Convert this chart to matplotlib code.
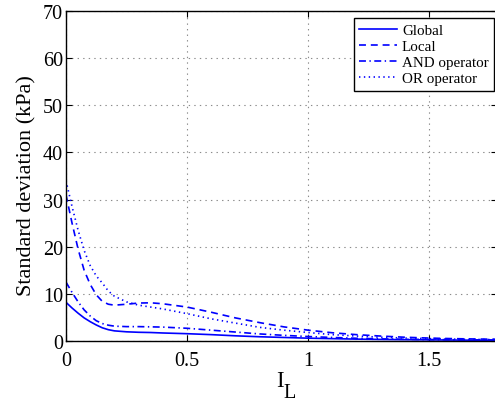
import numpy as np
import matplotlib
matplotlib.use("Agg")
import matplotlib.pyplot as plt

plt.rcParams['font.family'] = ['Liberation Serif', 'DejaVu Serif']
plt.rcParams['lines.scale_dashes'] = False

# I_L values and standard deviations (kPa)
il = [0, 0.025, 0.05, 0.075, 0.1, 0.125, 0.15, 0.175, 0.2, 0.25, 0.3, 0.35, 0.4,
      0.5, 0.6, 0.7, 0.8, 0.9, 1.0, 1.1, 1.2, 1.3, 1.4, 1.5, 1.6, 1.7, 1.8]
sd_global = [8.2, 7.0, 5.9, 4.9, 4.1, 3.4, 2.8, 2.4, 2.15, 1.95, 1.85, 1.8, 1.7,
             1.55, 1.35, 1.1, 0.9, 0.75, 0.6, 0.5, 0.4, 0.33, 0.28, 0.24, 0.2, 0.17, 0.15]
sd_local = [31, 25, 19.5, 15, 12, 9.8, 8.4, 7.8, 7.6, 7.8, 8.05, 8.1, 7.9,
            7.2, 6.1, 4.9, 3.9, 3.0, 2.3, 1.75, 1.35, 1.05, 0.8, 0.62, 0.5, 0.42, 0.36]
sd_and = [12.5, 10.3, 8.3, 6.6, 5.3, 4.3, 3.7, 3.35, 3.15, 3.05, 3.05, 3.0, 2.95,
          2.7, 2.3, 1.9, 1.5, 1.2, 0.95, 0.75, 0.58, 0.45, 0.37, 0.31, 0.27, 0.24, 0.22]
sd_or = [34, 28.5, 23.5, 19.2, 16, 13.8, 12.3, 10.6, 9.5, 8.3, 7.6, 7.2, 6.8,
         5.8, 4.7, 3.8, 2.9, 2.3, 1.8, 1.35, 1.05, 0.8, 0.62, 0.5, 0.4, 0.33, 0.28]

fig = plt.figure(figsize=(4.95, 4.02), dpi=100)
ax = fig.add_axes([66/495, 60/402, 431/495, 330/402])

blue = (0, 0, 1)
lw = 1.2
ax.plot(il, sd_global, color=blue, lw=lw, label='Global')
ax.plot(il, sd_local, color=blue, lw=lw, dashes=(5, 3.5), label='Local')
ax.plot(il, sd_and, color=blue, lw=lw, dashes=(5, 2.5, 1, 2.5), label='AND operator')
ax.plot(il, sd_or, color=blue, lw=lw, dashes=(1, 2.5), label='OR operator')

ax.set_xlim(0, 431/242)
ax.set_ylim(0, 70)
ax.set_xticks([0, 0.5, 1, 1.5])
ax.set_xticklabels(['0', '0.5', '1', '1.5'])
ax.set_yticks(range(0, 71, 10))
ax.tick_params(direction='in', length=4, labelsize=14.5, top=True, right=True)
ax.tick_params(axis='x', pad=7)
ax.tick_params(axis='y', pad=2)
ax.grid(True, color=(0.55, 0.55, 0.55), linestyle=(0, (1, 3)), lw=0.8)
for s in ax.spines.values():
    s.set_linewidth(1.0)

ax.set_ylabel('Standard deviation (kPa)', fontsize=16)
ax.yaxis.set_label_coords(-0.068, 0.473)

# x label: I with subscript L
fig.text(280/495, 1 - 387/402, 'I', ha='center', va='baseline', fontsize=16.5)
fig.text(283/495, 1 - 398/402, 'L', ha='left', va='baseline', fontsize=14.5)

leg = ax.legend(loc='upper right', bbox_to_anchor=((494-66)/431, (342-19)/330),
                borderaxespad=0, fontsize=10.8, handlelength=2.5, handletextpad=0.35,
                labelspacing=0.18, fancybox=False, framealpha=1, edgecolor='black',
                borderpad=0.35)
leg.get_frame().set_linewidth(1.0)

fig.savefig('out.png', dpi=100)
